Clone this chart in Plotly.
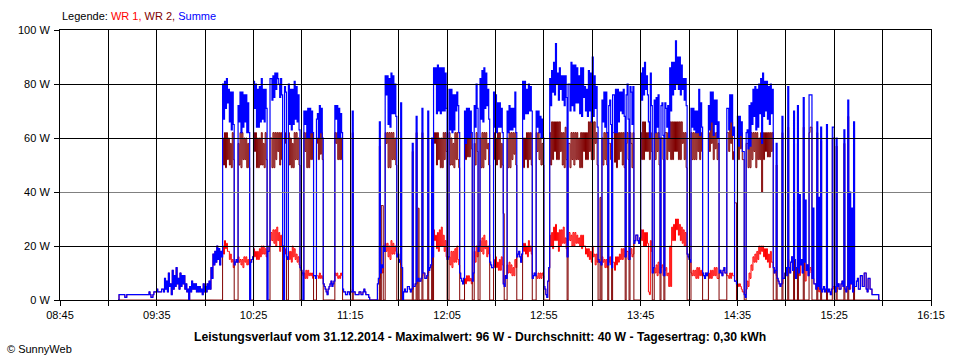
import pandas as pd
import plotly.graph_objects as go

# ---- data: one sample every 30 s, starting 09:15 on 31.12.2014 ----
start_time = "2014-12-31 09:15"
step = "30s"

wr1 = [
    # 09:15
    0,2, 2,2, 2,2, 2,1, 1,2, 2,2, 2,2, 2,2, 2,2, 2,2, 2,2, 2,2, 2,2, 2,2, 2,2, 2,2, 3,2, 1,1, 2,3, 3,3, 4,3, 3,3, 3,4, 4,3,
    # 09:39
    8,4, 7,3, 10,5, 6,2, 11,4, 9,5, 12,6, 8,4, 10,5, 9,6, 9,4, 6,3, 4,0, 5,3, 7,4, 6,4, 6,3, 5,3, 5,3, 4,2,
    6,3, 5,3, 6,4, 7,4, 12,8, 17,13, 18,14, 20,15, 19,13, 18,16,
    # 10:09
    20,17, 22,19, 21,18, 18,15, 17,14, 15,12, 13,14, 15,14, 16,14, 15,13, 15,12, 16,14, 16,13, 15,13, 15,14, 15,16,
    # 10:25
    19,16, 18,15, 18,15, 19,16, 20,17, 20,17, 19,16, 18,18, 20,22, 25,22, 26,21, 26,20, 27,22, 25,18, 24,20, 20,20, 19,17, 16,15,
    # 10:43
    18,15, 18,14, 20,16, 19,15, 17,14, 16,13, 12,11, 10,9, 10,8, 11,8, 11,9, 10,9, 10,8, 9,9, 8,9, 9,8, 10,8, 9,8,
    # 11:01
    6,5, 4,3, 2,4, 5,6, 7,5, 6,7, 10,9, 10,8, 9,8, 10,9, 4,3, 3,2, 2,3, 3,2, 3,3, 4,3, 3,2, 2,2, 2,3, 3,2, 2,3, 4,3,
    2,2, 2,1, 0,0, 0,0, 0,0, 0,0, 6,8, 8,10, 12,10, 20,18,
    # 11:33
    21,18, 21,16, 20,15, 22,17, 21,17, 20,18, 16,17, 14,15, 13,12, 2,3, 4,3, 3,5, 5,4, 3,4, 4,5, 5,6, 6,7, 8,7, 7,8,
    9,10, 10,8, 8,9, 10,11, 12,13, 14,16,
    # 11:58
    26,22, 24,19, 25,18, 26,20, 27,20, 24,18, 22,16, 15,16, 16,13, 18,12, 18,14, 19,14, 20,15, 13,10, 8,7, 6,8, 8,6,
    9,7, 9,7, 8,6, 7,10, 18,14, 20,16, 18,20, 22,18, 23,17, 24,19, 22,16, 20,17, 14,13, 12,12,
    # 12:29
    15,12, 16,12, 14,11, 15,11, 16,13, 6,5, 9,8, 13,10, 14,10, 13,9, 12,9, 15,12, 16,17, 18,16, 14,17, 21,18, 21,17,
    20,16, 22,18, 20,17, 8,9, 10,9, 9,8, 10,8, 10,8, 10,9, 5,4, 2,1, 7,12,
    # 12:58
    24,20, 25,19, 27,22, 28,22, 25,18, 26,20, 26,21, 27,21, 23,19, 16,22, 25,22, 24,20, 25,20, 25,21, 24,21, 23,20,
    24,19, 24,20, 20,17, 19,16, 19,15, 18,14, 20,16, 17,13, 17,14, 15,14, 14,13,
    # 13:25
    16,14, 15,12, 15,12, 13,14, 16,13, 12,14, 14,11, 16,13, 16,14, 17,15, 19,15, 19,16, 16,18, 18,15, 15,17, 19,16,
    17,21, 22,24, 24,22, 21,23, 26,22, 26,20, 25,20, 25,21, 3,2, 22,18, 10,12,
    # 13:52
    12,10, 13,9, 14,10, 10,12, 13,9, 9,11, 12,9, 10,5, 20,5, 27,22, 28,22, 30,26, 30,24, 28,22, 27,21, 26,20, 25,20,
    17,16, 15,14, 10,9, 11,9, 11,8, 12,8, 12,9, 11,9, 10,9, 8,10, 9,10,
    # 14:20
    10,8, 11,8, 11,9, 12,9, 12,8, 8,10, 11,10, 9,11, 12,10, 10,9, 9,8, 10,8, 10,9, 9,7, 7,6, 6,5, 6,5, 4,3, 3,2, 2,4,
    7,5, 10,8, 13,11, 16,14, 17,14, 18,15, 20,17, 20,18, 20,16, 19,15, 19,14, 17,12, 18,14, 14,12, 10,11, 9,8, 7,6, 5,6,
    # 14:58
    6,8, 8,10, 12,9, 15,12, 10,14, 16,11, 12,15, 8,12, 14,10, 9,13, 15,10, 11,14, 7,11, 13,9, 10,12, 11,8, 8,6, 6,4,
    4,5, 3,4, 5,3, 4,5, 3,4, 5,3, 4,3, 2,4, 4,5, 5,3, 3,5, 6,4, 4,6, 7,5, 5,4, 3,5, 6,4, 4,6, 6,3, 3,5, 5,7, 8,4,
    4,9, 9,5, 5,10, 10,4, 3,8, 8,4, 4,2, 2,2, 2,2, 2,2, 0,0,
]

wr2 = [
    # 09:15
    0,0, 0,0, 0,0, 0,0, 0,0, 0,0, 0,0, 0,0, 0,0, 0,0, 0,0, 0,0, 0,0, 0,0, 0,0, 0,0, 0,0, 0,0, 0,0, 0,0, 0,0, 0,0, 0,0, 0,0,
    # 09:39
    0,0, 0,0, 0,0, 0,0, 0,0, 0,0, 0,0, 0,0, 0,0, 0,0, 0,0, 0,0, 0,0, 0,0, 0,0, 0,0, 0,0, 0,0, 0,0, 0,0,
    0,0, 0,0, 0,0, 0,0, 0,0, 0,0, 0,0, 0,0, 0,0, 0,0,
    # 10:09
    60,50, 62,49, 62,52, 60,50, 58,49, 62,52, 0,0, 0,0, 58,50, 62,49, 62,52, 60,52, 60,49, 58,49, 0,0, 0,0,
    # 10:25
    62,55, 62,49, 60,49, 60,50, 62,50, 58,49, 62,52, 0,0, 0,60, 60,49, 62,49, 62,52, 62,55, 62,50, 62,52, 0,0, 62,58, 0,0,
    # 10:43
    62,50, 60,49, 58,49, 62,52, 62,52, 60,50, 0,0, 0,0, 62,55, 62,49, 62,49, 62,52, 62,52, 0,0, 0,58, 60,52, 62,54, 62,52,
    # 11:01
    0,0, 0,0, 0,0, 0,0, 0,0, 0,0, 62,58, 62,52, 62,52, 60,52, 0,0, 0,0, 0,0, 0,0, 0,0, 62,0, 0,0, 0,0, 0,0, 0,0, 0,0, 0,0,
    0,0, 0,0, 0,0, 0,0, 0,0, 0,0, 0,0, 57,0, 35,35, 0,0,
    # 11:33
    62,58, 62,49, 62,49, 62,52, 62,52, 60,50, 0,0, 0,0, 60,0, 0,0, 0,0, 0,0, 0,0, 0,0, 55,0, 0,0, 62,0, 34,0, 0,0,
    62,0, 0,0, 0,0, 60,0, 0,0, 46,0,
    # 11:58
    62,58, 62,50, 62,52, 60,49, 60,49, 62,52, 62,55, 0,0, 62,50, 60,50, 58,49, 62,52, 62,52, 49,0, 0,0, 0,0, 62,52,
    62,53, 62,53, 62,56, 0,0, 58,50, 62,55, 0,0, 60,49, 62,49, 62,52, 62,56, 58,50, 0,0, 0,0,
    # 12:29
    62,52, 60,50, 62,52, 62,49, 58,50, 32,0, 0,0, 60,49, 62,49, 62,52, 62,54, 62,50, 0,0, 0,0, 0,0, 60,49, 60,52,
    62,49, 62,52, 62,50, 0,0, 0,0, 62,55, 62,52, 60,50, 58,50, 0,0, 0,0, 0,0,
    # 12:58
    62,50, 66,52, 66,55, 66,52, 66,52, 66,55, 62,50, 62,49, 64,52, 0,58, 58,49, 62,52, 62,50, 62,52, 62,52, 60,49,
    62,49, 62,55, 62,52, 62,52, 66,55, 66,52, 66,52, 66,58, 62,50, 0,0, 38,0,
    # 13:25
    60,50, 62,52, 62,50, 0,58, 58,52, 0,62, 62,51, 62,49, 62,52, 62,55, 62,50, 62,49, 0,58, 62,52, 0,62, 58,49,
    62,0, 0,0, 0,0, 0,0, 62,52, 66,52, 66,55, 62,55, 62,52, 62,55, 0,0,
    # 13:52
    62,52, 62,55, 62,50, 0,60, 60,52, 0,62, 62,52, 62,55, 66,52, 66,52, 66,55, 66,55, 66,52, 66,52, 66,58, 62,52, 62,49,
    0,0, 0,0, 62,52, 62,52, 62,52, 62,55, 66,52, 62,55, 0,0, 0,0, 0,0,
    # 14:20
    62,55, 66,58, 66,52, 62,56, 62,52, 58,0, 0,0, 0,0, 0,0, 0,62, 62,55, 66,58, 66,52, 55,36, 36,0, 62,52, 62,56,
    62,52, 52,0, 0,58, 58,49, 62,49, 62,52, 62,55, 62,49, 62,52, 60,52, 62,40, 62,52, 62,55, 62,53, 62,53, 62,55,
    62,0, 0,0, 50,0, 0,0, 0,0,
    # 14:58
    62,0, 0,0, 0,0, 64,0, 0,0, 0,0, 58,0, 0,0, 58,0, 0,0, 0,0, 64,0, 0,0, 0,0, 62,64, 64,0, 0,0, 0,0, 62,0, 0,0,
    59,0, 0,0, 0,0, 60,0, 0,0, 0,0, 60,60, 0,0, 57,0, 0,0, 0,0, 0,0, 58,0, 0,0, 68,0, 0,0, 0,0, 63,0, 0,0, 0,0,
    0,0, 0,0, 0,0, 0,0, 0,0, 0,0, 0,0, 0,0, 0,0, 0,0, 0,0,
]

summe = [
    # 09:15
    0,2, 2,2, 2,2, 2,1, 1,2, 2,2, 2,2, 2,2, 2,2, 2,2, 2,2, 2,2, 2,2, 2,2, 2,2, 2,2, 3,2, 1,1, 2,3, 3,3, 4,3, 3,3, 3,4, 4,3,
    # 09:39
    8,4, 7,3, 10,5, 6,2, 11,4, 9,5, 12,6, 8,4, 10,5, 9,6, 9,4, 6,3, 4,0, 5,3, 7,4, 6,4, 6,3, 5,3, 5,3, 4,2,
    6,3, 5,3, 6,4, 7,4, 12,8, 17,13, 18,14, 20,15, 19,13, 18,16,
    # 10:09
    80,67, 81,71, 82,73, 78,66, 77,63, 77,65, 13,14, 15,14, 72,66, 77,62, 77,64, 76,66, 76,62, 73,62, 0,14, 15,16,
    # 10:25
    81,71, 80,64, 78,64, 79,66, 82,67, 78,66, 78,71, 0,18, 20,82, 82,74, 83,75, 84,78, 84,82, 80,75, 82,76, 20,0, 79,77, 16,15,
    # 10:43
    80,65, 78,63, 78,65, 81,67, 79,66, 76,63, 12,11, 10,0, 70,65, 70,60, 71,60, 71,62, 70,62, 9,9, 8,67, 69,60, 72,62, 71,60,
    # 11:01
    6,5, 4,3, 2,4, 5,6, 7,5, 6,7, 72,67, 72,60, 71,60, 69,62, 4,3, 3,2, 2,3, 3,2, 3,3, 70,3, 3,2, 2,2, 2,3, 3,2, 2,3, 4,3,
    2,2, 2,1, 0,0, 0,0, 0,0, 0,0, 6,8, 66,10, 13,12, 20,18,
    # 11:33
    83,76, 83,65, 82,64, 84,69, 83,69, 80,68, 16,17, 14,15, 73,12, 0,3, 4,3, 3,5, 5,4, 3,4, 58,5, 5,6, 68,7, 8,7, 7,8,
    71,10, 10,8, 8,9, 70,11, 12,13, 60,16,
    # 11:58
    86,80, 86,69, 87,70, 86,69, 86,70, 86,70, 84,71, 15,16, 78,63, 78,62, 76,63, 76,70, 77,72, 62,10, 8,7, 6,8, 70,58,
    71,60, 71,60, 70,62, 7,10, 72,64, 80,71, 18,20, 82,67, 85,66, 86,71, 84,72, 78,67, 14,13, 12,12,
    # 12:29
    77,64, 76,62, 73,64, 73,64, 71,62, 6,5, 9,8, 70,62, 72,63, 71,63, 71,64, 77,62, 16,17, 18,16, 14,17, 81,67, 81,69,
    78,69, 80,70, 79,70, 8,9, 10,9, 70,64, 70,62, 68,60, 67,60, 5,4, 2,1, 7,12,
    # 12:58
    82,72, 85,77, 88,76, 95,80, 84,74, 86,78, 83,74, 83,72, 83,75, 16,80, 80,70, 88,72, 87,70, 87,73, 86,73, 83,69,
    86,68, 86,75, 79,70, 78,68, 85,70, 84,66, 90,68, 83,71, 79,64, 15,14, 14,13,
    # 13:25
    74,66, 77,64, 77,62, 13,72, 74,65, 12,76, 76,62, 78,62, 78,66, 77,70, 77,69, 78,68, 16,76, 80,67, 15,79, 77,65,
    79,21, 22,24, 24,22, 21,23, 84,74, 86,76, 88,78, 83,76, 66,60, 84,72, 10,12,
    # 13:52
    74,62, 75,64, 76,60, 10,72, 73,61, 9,73, 71,64, 72,60, 86,70, 88,76, 88,78, 96,80, 90,78, 90,76, 87,78, 82,74, 82,72,
    17,16, 15,14, 71,64, 71,63, 70,62, 70,62, 78,61, 73,64, 10,9, 8,10, 9,10,
    # 14:20
    72,63, 77,66, 77,61, 74,65, 74,60, 66,10, 11,10, 9,11, 12,10, 10,71, 71,63, 76,66, 76,61, 64,7, 7,6, 68,57, 68,61,
    66,55, 55,2, 1,62, 63,56, 72,57, 73,65, 78,68, 79,63, 78,64, 80,69, 82,58, 84,68, 81,70, 81,67, 79,65, 80,69,
    78,12, 10,11, 58,8, 7,6, 5,6,
    # 14:58
    68,8, 8,10, 12,9, 79,12, 10,14, 16,11, 70,15, 8,12, 72,10, 39,13, 15,10, 75,14, 37,11, 13,9, 76,76, 76,8, 34,6, 6,4,
    66,5, 38,4, 64,3, 4,5, 3,4, 65,3, 4,3, 2,4, 64,64, 5,3, 60,5, 6,4, 4,6, 7,5, 63,4, 3,5, 74,4, 40,6, 34,3, 66,5,
    5,7, 8,4, 4,9, 9,5, 5,10, 10,4, 3,8, 8,4, 4,2, 2,2, 2,2, 2,2, 0,0,
]

grid_times = ["08:45", "09:10", "09:35", "10:00", "10:25", "10:50", "11:15", "11:40", "12:05",
              "12:30", "12:55", "13:20", "13:45", "14:10", "14:35", "15:00", "15:25", "15:50", "16:15"]
tick_labels = ["08:45", "", "09:35", "", "10:25", "", "11:15", "", "12:05", "",
               "12:55", "", "13:45", "", "14:35", "", "15:25", "", "16:15"]
y_ticks = [0, 20, 40, 60, 80, 100]
y_labels = ["0 W", "20 W", "40 W", "60 W", "80 W", "100 W"]
average_w = 40
title_text = ("Leistungsverlauf vom 31.12.2014 - Maximalwert: 96 W - Durchschnitt: 40 W - "
              "Tagesertrag: 0,30 kWh")

day = "2014-12-31 "
grid_dt = [day + g for g in grid_times]

FONT = "Liberation Sans, Arial, sans-serif"

fig = go.Figure()
for name, vals, color, width in [("WR 1", wr1, "#ff0000", 1.0),
                                 ("WR 2", wr2, "#800000", 1.0),
                                 ("Summe", summe, "#0000ff", 1.2)]:
    t = pd.date_range(start_time, periods=len(vals), freq=step)
    fig.add_trace(go.Scatter(x=t, y=vals, mode="lines", name=name,
                             line=dict(color=color, width=width, shape="hv"),
                             hoverinfo="skip", showlegend=False))

# empty helper traces so the grid axes exist
fig.add_trace(go.Scatter(x=[None], y=[None], xaxis="x2", yaxis="y2", showlegend=False, hoverinfo="skip"))
fig.add_trace(go.Scatter(x=[None], y=[None], xaxis="x", yaxis="y3", showlegend=False, hoverinfo="skip"))

xr = [grid_dt[0], grid_dt[-1]]
fig.update_layout(
    width=960, height=360,
    margin=dict(l=60, r=29, t=30, b=60),
    paper_bgcolor="white", plot_bgcolor="white",
    font=dict(family=FONT, size=11, color="black"),
    xaxis=dict(type="date", range=xr, tickvals=grid_dt, ticktext=tick_labels,
               ticks="outside", ticklen=5, tickwidth=1, tickcolor="black",
               showline=True, linecolor="black", linewidth=1, mirror=True,
               showgrid=False, zeroline=False, layer="above traces",
               tickfont=dict(family=FONT, size=11, color="black")),
    xaxis2=dict(type="date", range=xr, overlaying="x", anchor="y", side="bottom",
                tickvals=grid_dt[1:-1], showticklabels=False,
                ticks="inside", ticklen=270, tickwidth=1, tickcolor="black",
                showline=False, showgrid=False, zeroline=False, layer="above traces"),
    yaxis=dict(range=[0, 100], tickvals=y_ticks, ticktext=y_labels,
               ticks="outside", ticklen=5, tickwidth=1, tickcolor="black",
               showline=True, linecolor="black", linewidth=1, mirror=True,
               showgrid=False, zeroline=False, layer="above traces",
               ticklabelstandoff=2,
               tickfont=dict(family=FONT, size=11, color="black")),
    yaxis2=dict(range=[0, 100], overlaying="y", anchor="x", side="left",
                tickvals=[20, 60, 80], showticklabels=False,
                ticks="inside", ticklen=871, tickwidth=1, tickcolor="black",
                showline=False, showgrid=False, zeroline=False, layer="above traces"),
    yaxis3=dict(range=[0, 100], overlaying="y", anchor="x", side="left",
                tickvals=[average_w], showticklabels=False,
                ticks="inside", ticklen=871, tickwidth=1, tickcolor="#808080",
                showline=False, showgrid=False, zeroline=False, layer="above traces"),
)

fig.add_annotation(xref="paper", yref="paper", x=0, y=1.05, xanchor="left", yanchor="middle",
                   showarrow=False, font=dict(family=FONT, size=11, color="black"),
                   text="Legende: <span style='color:#ff0000'>WR 1,</span> "
                        "<span style='color:#800000'>WR 2,</span> "
                        "<span style='color:#0000ff'>Summe</span>")
fig.add_annotation(xref="paper", yref="paper", x=(479.5 - 60) / 871, y=(300 - 337) / 270,
                   xanchor="center", yanchor="middle", showarrow=False,
                   font=dict(family=FONT, size=12.2, color="black"), text="<b>" + title_text + "</b>")
fig.add_annotation(xref="paper", yref="paper", x=(5 - 60) / 871, y=(300 - 349) / 270,
                   xanchor="left", yanchor="middle", showarrow=False,
                   font=dict(family=FONT, size=11, color="black"), text="© SunnyWeb")

fig.write_html("out.html", config={"displayModeBar": False},
               post_script="document.body.style.margin='0px';")
